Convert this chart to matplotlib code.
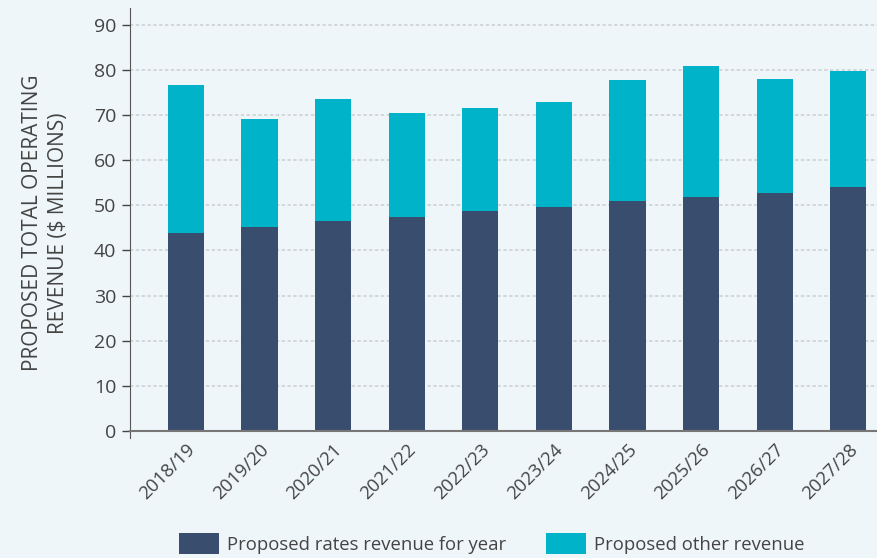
import matplotlib.pyplot as plt
import numpy as np

years = ["2018/19", "2019/20", "2020/21", "2021/22", "2022/23",
         "2023/24", "2024/25", "2025/26", "2026/27", "2027/28"]
rates_revenue = [43.8, 45.2, 46.5, 47.4, 48.7, 49.6, 50.9, 51.8, 52.7, 54.0]
total_revenue = [76.8, 69.2, 73.7, 70.6, 71.6, 73.0, 77.9, 81.0, 78.1, 79.9]
other_revenue = [t - r for t, r in zip(total_revenue, rates_revenue)]

bg = "#eef6f9"
dark = "#394d6e"
cyan = "#00b3c9"
text_col = "#444444"

plt.rcParams["font.family"] = ["Open Sans", "DejaVu Sans"]

fig = plt.figure(figsize=(8.77, 5.58), dpi=100, facecolor=bg)
# axes bottom a little below zero so the left spine pokes under the baseline
ax = fig.add_axes([130 / 877, 1 - 438 / 558, 747 / 877, 430 / 558])
ax.set_facecolor(bg)

# spine position resets ticks, so do it first
for s in ["top", "right"]:
    ax.spines[s].set_visible(False)
ax.spines["left"].set_color("#555555")
ax.spines["bottom"].set_position(("data", 0))
ax.spines["bottom"].set_color("#777777")
ax.spines["bottom"].set_linewidth(1.5)
ax.spines["bottom"].set_zorder(4)

x = np.arange(len(years))
ax.bar(x, rates_revenue, width=0.49, color=dark, label="Proposed rates revenue for year", zorder=3)
ax.bar(x, other_revenue, width=0.49, bottom=rates_revenue, color=cyan,
       label="Proposed other revenue", zorder=3)

ax.set_xlim(-0.76, 9.39)
ax.set_ylim(-1.6, 93.8)
ax.set_yticks(range(0, 100, 10))
ax.tick_params(axis="y", labelsize=14, colors=text_col, length=6, width=1, pad=4)
ax.tick_params(axis="x", length=0, pad=7)
ax.set_xticks(x)
ax.set_xticklabels(years, rotation=45, ha="right", rotation_mode="anchor",
                   fontsize=13.3, color=text_col)

ax.yaxis.grid(True, linestyle=(0, (2, 1.5)), color="#cdd1d5", linewidth=1.2, zorder=0)

ax.set_ylabel("PROPOSED TOTAL OPERATING\nREVENUE ($ MILLIONS)", fontsize=15,
              color=text_col, labelpad=18, linespacing=1.28)

fig.legend(loc="upper left", bbox_to_anchor=(179 / 877, 1 - 533 / 558), ncol=2,
           frameon=False, fontsize=13.3, handlelength=2.15, handleheight=1.4,
           columnspacing=2.15, handletextpad=0.45, borderpad=0, borderaxespad=0,
           labelcolor=text_col)

fig.savefig("out.png", dpi=100, facecolor=bg)
